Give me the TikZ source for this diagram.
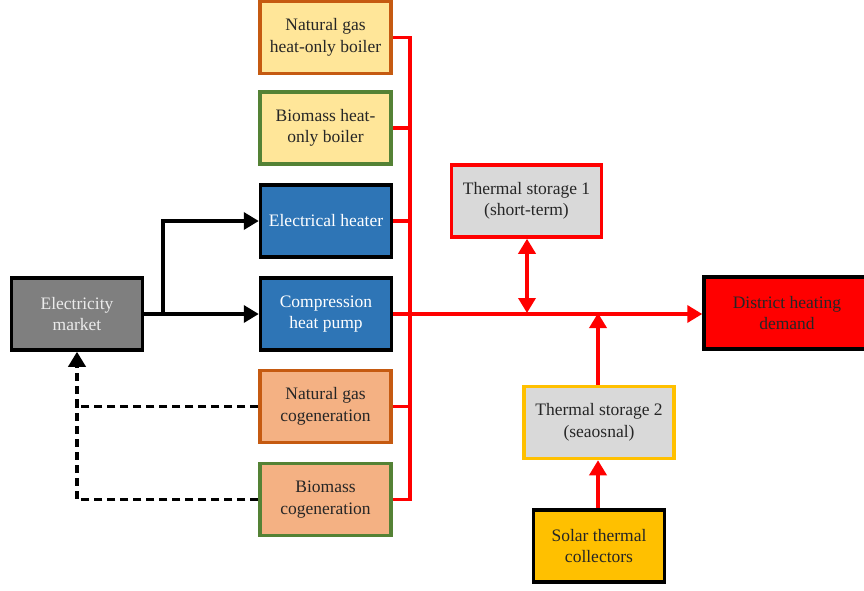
\documentclass[tikz,border=0pt]{standalone}
\usepackage{fontspec}
\setmainfont{Liberation Serif}
\usetikzlibrary{arrows.meta}
\definecolor{ngborder}{HTML}{C55A11}
\definecolor{bioborder}{HTML}{548235}
\definecolor{boilerfill}{HTML}{FFE699}
\definecolor{cogfill}{HTML}{F4B183}
\definecolor{bluefill}{HTML}{2E75B6}
\definecolor{grayfill}{HTML}{7F7F7F}
\definecolor{storefill}{HTML}{D9D9D9}
\definecolor{gold}{HTML}{FFC000}
\definecolor{redline}{HTML}{FF0000}
\definecolor{darktext}{HTML}{262626}
\tikzset{
  box/.style={draw, line width=3.5pt, minimum width=131pt, minimum height=72pt,
    align=center, inner sep=0pt, text=darktext,
    font=\fontsize{17.5}{21.5}\selectfont},
  redflow/.style={draw=redline, line width=3.5pt},
  blackflow/.style={draw=black, line width=3.5pt},
  tip/.style={-{Triangle[length=15pt,width=17pt]}},
  dtip/.style={{Triangle[length=15pt,width=17pt]}-{Triangle[length=15pt,width=17pt]}},
}
\begin{document}
\begin{tikzpicture}[x=1pt,y=-1pt]
\useasboundingbox (0,0) rectangle (864,591);
% boxes
\node[box, draw=ngborder, fill=boilerfill] (ngb) at (325.5,37.5) {Natural gas\\heat-only boiler};
\node[box, draw=bioborder, fill=boilerfill] (bib) at (325.5,128) {Biomass heat-\\only boiler};
\node[box, draw=black, fill=bluefill, text=white] (eh) at (326,221) {Electrical heater};
\node[box, draw=black, fill=bluefill, text=white] (hp) at (326,314) {Compression\\heat pump};
\node[box, draw=ngborder, fill=cogfill] (ngc) at (325.5,406.5) {Natural gas\\cogeneration};
\node[box, draw=bioborder, fill=cogfill] (bic) at (325.5,499.5) {Biomass\\cogeneration};
\node[box, draw=black, fill=grayfill, text={rgb,255:red,235;green,235;blue,235}] (em) at (77,314) {Electricity\\market};
\node[box, draw=redline, fill=storefill, minimum width=150pt] (ts1) at (526.5,201) {Thermal storage 1\\(short-term)};
\node[box, draw=gold, fill=storefill, minimum width=150pt] (ts2) at (599,422.5) {Thermal storage 2\\(seaosnal)};
\node[box, draw=black, fill=gold] (sol) at (599,546) {Solar thermal\\collectors};
\node[box, draw=black, fill=redline, minimum width=166pt] (dh) at (787,313) {District heating\\demand};
% bus coordinates
\coordinate (busT) at (410,37.5);
\coordinate (busB) at (410,499.5);
\coordinate (j1) at (527,313);
\coordinate (j2) at (598,313);
\coordinate (br) at (163,314);
\coordinate (dj) at (77,406.5);
\coordinate (dj2) at (77,499.5);
% red bus
\draw[redflow, line join=miter] (ngb.east) -- (busT) -- (busB) -- (bic.east);
\draw[redflow] (bib.east) -- (bib.east -| busT);
\draw[redflow] (eh.east) -- (eh.east -| busT);
\draw[redflow] (ngc.east) -- (ngc.east -| busT);
\draw[redflow, tip] (hp.east) -- (dh.west |- hp.east);
\draw[redflow, dtip] (ts1.south -| j1) -- (j1);
\draw[redflow, tip] (ts2.north -| j2) -- (j2);
\draw[redflow, tip] (sol.north -| j2) -- (ts2.south -| j2);
% black arrows
\draw[blackflow, tip] (em.east) -- (hp.west);
\draw[blackflow, tip] (br) |- (eh.west);
% dashed returns
\draw[blackflow, dash pattern=on 8pt off 5pt] (ngc.west) -- (dj);
\draw[blackflow, dash pattern=on 8pt off 5pt] (bic.west) -- (dj2) -- (dj);
\draw[blackflow, dash pattern=on 8pt off 5pt, tip] (dj) -- (em.south -| dj);
\end{tikzpicture}
\end{document}
